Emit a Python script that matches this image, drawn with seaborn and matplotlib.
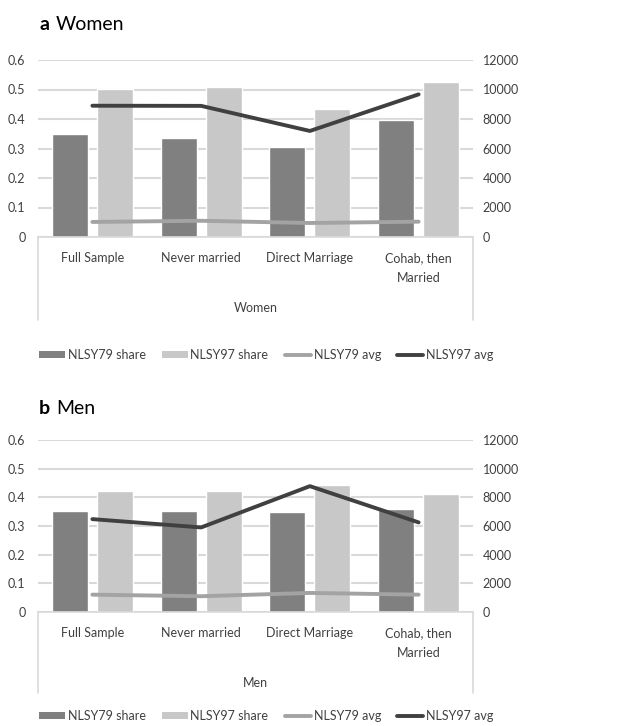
import pandas as pd
import matplotlib.pyplot as plt
import seaborn as sns
from matplotlib.patches import Patch
from matplotlib.lines import Line2D

# === DATA ===
categories = ["Full Sample", "Never married", "Direct Marriage", "Cohab, then\nMarried"]
series_share = ["NLSY79 share", "NLSY97 share"]

women_79_share = [0.348, 0.336, 0.305, 0.398]
women_97_share = [0.503, 0.507, 0.433, 0.525]
women_79_avg = [1020, 1100, 950, 1040]
women_97_avg = [8900, 8890, 7190, 9670]

men_79_share = [0.354, 0.352, 0.348, 0.360]
men_97_share = [0.422, 0.422, 0.443, 0.410]
men_79_avg = [1210, 1100, 1330, 1210]
men_97_avg = [6480, 5900, 8780, 6250]

left_ticks = [0, 0.1, 0.2, 0.3, 0.4, 0.5, 0.6]
left_labels = ["0", "0.1", "0.2", "0.3", "0.4", "0.5", "0.6"]
right_ticks = [0, 2000, 4000, 6000, 8000, 10000, 12000]

# === STYLE ===
sns.set_theme(style="white")
plt.rcParams["font.family"] = ["Lato", "DejaVu Sans"]
TXT = "#404040"
GRID = "#d9d9d9"
DARK_BAR = "#808080"
LIGHT_BAR = "#c8c8c8"
AVG79 = "#a3a3a3"
AVG97 = "#404040"

W, H = 633, 726
fig = plt.figure(figsize=(W / 100, H / 100), dpi=100)


def px_axes(left, top, right, bottom):
    return fig.add_axes([left / W, 1 - bottom / H, (right - left) / W, (bottom - top) / H])


def panel(ax, s79, s97, a79, a97, group):
    df = pd.DataFrame({
        "cat": categories * 2,
        "series": [series_share[0]] * 4 + [series_share[1]] * 4,
        "value": s79 + s97,
    })
    sns.barplot(data=df, x="cat", y="value", hue="series", hue_order=series_share,
                palette=[DARK_BAR, LIGHT_BAR], width=0.826, gap=0.2,
                saturation=1, legend=False, ax=ax, zorder=2)
    ax.set_ylim(0, 0.6)
    ax.set_xlim(-0.5, 3.5)
    ax.set_yticks(left_ticks, left_labels)
    ax.yaxis.grid(True, color=GRID, linewidth=1.5, zorder=0)
    ax.set_axisbelow(True)
    for s in ["top", "right", "left"]:
        ax.spines[s].set_visible(False)
    ax.spines["bottom"].set_color(GRID)
    ax.spines["bottom"].set_linewidth(1.2)
    ax.tick_params(axis="y", length=0, pad=9, labelsize=9, labelcolor=TXT)
    ax.tick_params(axis="x", length=0, pad=11, labelsize=9, labelcolor=TXT)
    ax.set_ylabel("")
    ax.set_xlabel(group, fontsize=9, color=TXT, labelpad=13)

    # category box (excel multi-level axis)
    for xx in (0, 1):
        ax.plot([xx, xx], [0, -0.47], transform=ax.transAxes, color=GRID,
                linewidth=1.2, clip_on=False)

    ax2 = ax.twinx()
    dl = pd.DataFrame({
        "cat": categories * 2,
        "series": ["NLSY79 avg"] * 4 + ["NLSY97 avg"] * 4,
        "value": a79 + a97,
    })
    sns.lineplot(data=dl, x="cat", y="value", hue="series",
                 palette=[AVG79, AVG97], linewidth=2.8, legend=False,
                 sort=False, ax=ax2)
    ax2.set_ylim(0, 12000)
    ax2.set_yticks(right_ticks, [str(t) for t in right_ticks])
    ax2.tick_params(axis="y", length=0, pad=7, labelsize=9, labelcolor=TXT)
    ax2.set_ylabel("")
    for s in ax2.spines.values():
        s.set_visible(False)
    ax.set_xticks(range(len(categories)), categories)
    ax.set_xlim(-0.5, 3.5)
    for lab in ax.get_xticklabels():
        lab.set_linespacing(1.75)


def legend_at(ycenter):
    handles = [
        Patch(facecolor=DARK_BAR, edgecolor="none"),
        Patch(facecolor=LIGHT_BAR, edgecolor="none"),
        Line2D([], [], color=AVG79, linewidth=2.8),
        Line2D([], [], color=AVG97, linewidth=2.8),
    ]
    labels = ["NLSY79 share", "NLSY97 share", "NLSY79 avg", "NLSY97 avg"]
    fig.legend(handles, labels, loc="center", bbox_to_anchor=(266 / W, 1 - ycenter / H),
               ncol=4, frameon=False, fontsize=9, labelcolor=TXT,
               handlelength=2.1, handleheight=0.55, handletextpad=0.2,
               columnspacing=1.3)


# === PANEL a ===
ax_a = px_axes(38, 60, 473, 237)
panel(ax_a, women_79_share, women_97_share, women_79_avg, women_97_avg, "Women")
fig.text(39 / W, 1 - 24 / H, "a", fontsize=14, fontweight="bold", va="center", color="black")
fig.text(56 / W, 1 - 24 / H, "Women", fontsize=14, va="center", color="black")
legend_at(355)

# === PANEL b ===
ax_b = px_axes(38, 440, 473, 612)
panel(ax_b, men_79_share, men_97_share, men_79_avg, men_97_avg, "Men")
fig.text(39 / W, 1 - 408 / H, "b", fontsize=14, fontweight="bold", va="center", color="black")
fig.text(56 / W, 1 - 408 / H, "Men", fontsize=14, va="center", color="black")
legend_at(716)

fig.savefig("out.png", dpi=100)
